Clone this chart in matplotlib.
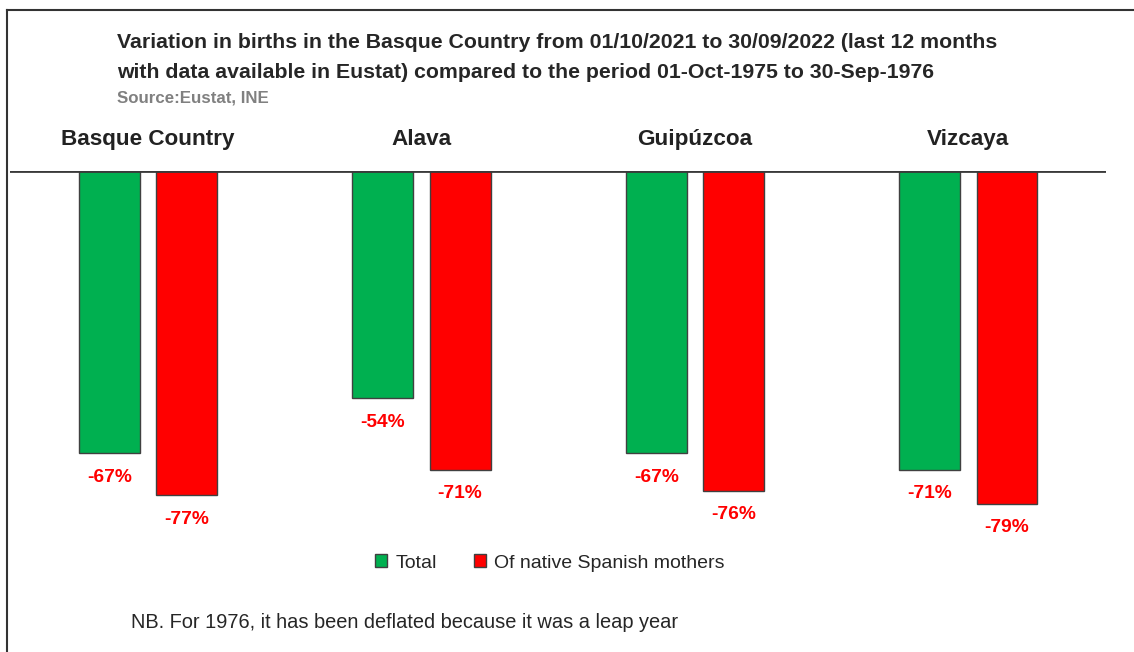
import matplotlib
matplotlib.use('Agg')
import matplotlib.pyplot as plt
from matplotlib.lines import Line2D
from matplotlib.patches import Patch
import numpy as np

plt.rcParams['font.family'] = ['Liberation Sans', 'DejaVu Sans']

# datos: variacion de nacimientos (%)
regiones = ['Basque Country', 'Alava', 'Guipúzcoa', 'Vizcaya']
total = [-67, -54, -67, -71]
madres_esp = [-77, -71, -76, -79]
series = ['Total', 'Of native Spanish mothers']

verde = '#00B050'
rojo = '#FF0000'
borde = '#404040'

fig = plt.figure(figsize=(11.34, 6.52), dpi=100)
W, H = 1134.0, 652.0

# eje: linea base en y=171px, 4.21 px por punto porcentual
ax = fig.add_axes([10/W, 1-592/H, 1096/W, 421/H])
x = np.arange(len(regiones))
ancho = 0.223
off = 0.141
b1 = ax.bar(x-off, total, ancho, color=verde, edgecolor=borde, linewidth=1)
b2 = ax.bar(x+off, madres_esp, ancho, color=rojo, edgecolor=borde, linewidth=1)
ax.set_xlim(-0.505, 3.503)
ax.set_ylim(-100, 0)
ax.axhline(0, color='#3a3a3a', linewidth=2)
ax.axis('off')

for barras, vals in ((b1, total), (b2, madres_esp)):
    for b, v in zip(barras, vals):
        ax.annotate('%d%%' % v, (b.get_x()+b.get_width()/2, v), xytext=(0, -17.3),
                    textcoords='offset points', ha='center', va='center',
                    color=rojo, fontsize=13.8, fontweight='bold')

# nombres de cada grupo por encima de la linea base
for i, r in enumerate(regiones):
    ax.text(i, 7.5, r, ha='center', va='center', clip_on=False,
            fontsize=16.2, fontweight='bold', color='#222222')

fig.text(117/W, 1-42/H, 'Variation in births in the Basque Country from 01/10/2021 to 30/09/2022 (last 12 months',
         fontsize=15.3, fontweight='bold', color='#262626', va='center')
fig.text(117/W, 1-72/H, 'with data available in Eustat) compared to the period 01-Oct-1975 to 30-Sep-1976',
         fontsize=15.3, fontweight='bold', color='#262626', va='center')
fig.text(117/W, 1-98/H, 'Source:Eustat, INE', fontsize=12.2, fontweight='bold',
         color='#808080', va='center')

handles = [Patch(facecolor=verde, edgecolor=borde), Patch(facecolor=rojo, edgecolor=borde)]
fig.legend(handles, series, loc='center', bbox_to_anchor=(550/W, 1-563/H), ncol=2,
           frameon=False, fontsize=14.0, handlelength=0.6, handleheight=0.6,
           handletextpad=0.45, columnspacing=1.9, labelcolor='#262626')

fig.text(131/W, 1-622/H, 'NB. For 1976, it has been deflated because it was a leap year',
         fontsize=14.4, color='#262626', va='center')

# marco exterior
fig.add_artist(Line2D([7/W, 1], [1-10/H, 1-10/H], color='#333333', linewidth=1.5))
fig.add_artist(Line2D([7/W, 7/W], [0, 1-10/H], color='#333333', linewidth=1.5))

fig.savefig('out.png', dpi=100)
